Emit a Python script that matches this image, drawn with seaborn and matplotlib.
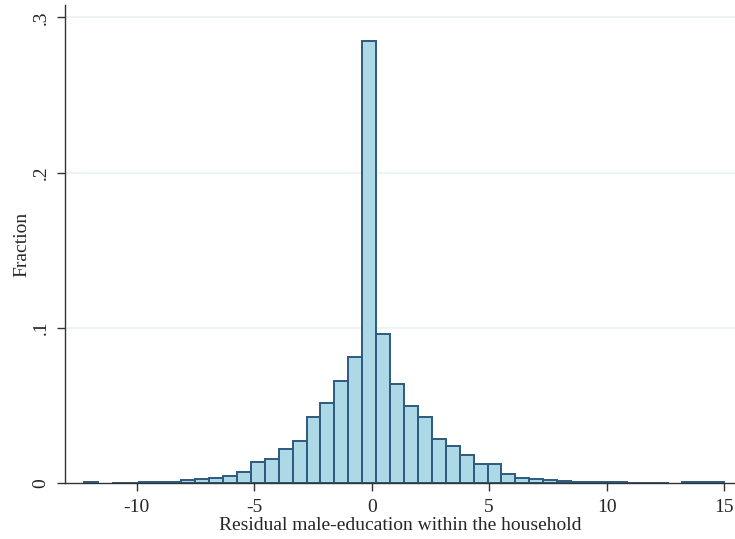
import numpy as np
import pandas as pd
import seaborn as sns
import matplotlib.pyplot as plt

# Stata-like histogram: 46 bins from -12.25 to 15
bin_lo = -12.25
bin_hi = 15.0
n_bins = 46
fractions = [
    0.0008, 0.0, 0.0005, 0.0005, 0.0006, 0.0008, 0.0010, 0.0020,
    0.0026, 0.0032, 0.0049, 0.0073, 0.0139, 0.0157, 0.0220, 0.0272,
    0.0425, 0.0517, 0.0657, 0.0815, 0.2850, 0.0961, 0.0642, 0.0500,
    0.0425, 0.0287, 0.0240, 0.0180, 0.0124, 0.0122, 0.0063, 0.0036,
    0.0028, 0.0021, 0.0013, 0.0008, 0.0007, 0.0006, 0.0006, 0.0005,
    0.0005, 0.0005, 0.0, 0.0007, 0.0006, 0.0006,
]
x_ticks = [-10, -5, 0, 5, 10, 15]
y_ticks = [0, 0.1, 0.2, 0.3]
y_tick_labels = ['0', '.1', '.2', '.3']

edges = np.linspace(bin_lo, bin_hi, n_bins + 1)
df = pd.DataFrame({'resid': (edges[:-1] + edges[1:]) / 2, 'frac': fractions})

sns.set_style('white')
plt.rcParams['font.family'] = ['Liberation Serif', 'DejaVu Serif']

fig = plt.figure(figsize=(7.35, 5.39), dpi=100)
ax = fig.add_axes([65 / 735, 1 - 483.3 / 539, 1 - 65 / 735, (483.3 - 5) / 539])

for yv in y_ticks[1:]:
    ax.axhline(yv, color='#eaf2f3', lw=1.2, zorder=0)

sns.histplot(data=df, x='resid', weights='frac', bins=edges.tolist(), ax=ax,
             color='#add8e6', edgecolor='#2c5a80', linewidth=1.4,
             alpha=1, stat='count')

for p in ax.patches:
    if p.get_height() == 0:
        p.set_visible(False)

ax.set_xlim(-13.05, 15.46)
ax.set_ylim(0, 0.308)
ax.set_xticks(x_ticks)
ax.set_xticklabels([str(v) for v in x_ticks], fontsize=14)
ax.set_yticks(y_ticks)
ax.set_yticklabels(y_tick_labels, fontsize=14, rotation=90, va='center')
ax.set_xlabel('Residual male-education within the household', fontsize=14, labelpad=1)
ax.set_ylabel('Fraction', fontsize=14, labelpad=2)

for side in ['top', 'right']:
    ax.spines[side].set_visible(False)
for side in ['left', 'bottom']:
    ax.spines[side].set_color('#333333')
    ax.spines[side].set_linewidth(1.0)
ax.tick_params(axis='both', direction='out', length=6, width=1, color='#333333',
               left=True, bottom=True, pad=5)

fig.savefig('out.png', dpi=100)
